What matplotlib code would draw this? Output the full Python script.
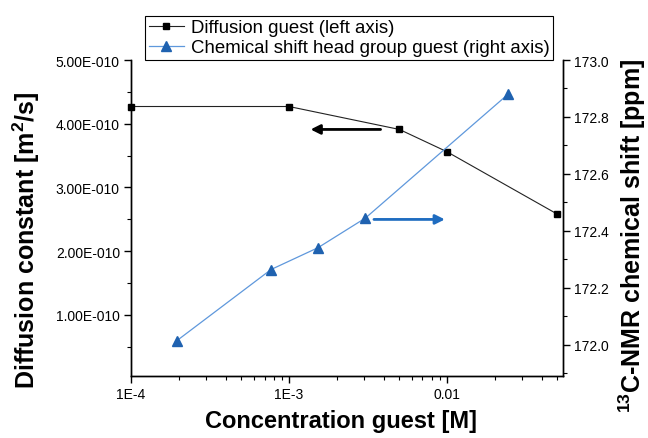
import matplotlib
matplotlib.use("Agg")
import matplotlib.pyplot as plt
from matplotlib.ticker import FixedLocator, FuncFormatter, LogLocator, NullFormatter, MultipleLocator

plt.rcParams['font.family'] = ['Liberation Sans', 'DejaVu Sans']
plt.rcParams['mathtext.fontset'] = 'custom'
plt.rcParams['mathtext.default'] = 'regular'

# Data
diff_conc = [1.0e-4, 1.0e-3, 5.0e-3, 1.0e-2, 5.0e-2]
diff_vals = [4.27e-10, 4.27e-10, 3.91e-10, 3.56e-10, 2.58e-10]

shift_conc = [1.95e-4, 7.7e-4, 1.53e-3, 3.05e-3, 2.45e-2]
shift_vals = [172.014, 172.264, 172.341, 172.445, 172.881]

x_ticks = [1e-4, 1e-3, 1e-2]
x_ticklabels = ["1E-4", "1E-3", "0.01"]
left_ticks = [1e-10, 2e-10, 3e-10, 4e-10, 5e-10]
right_ticks = [172.0, 172.2, 172.4, 172.6, 172.8, 173.0]

# Annotation arrows (tail -> head)
black_arrow = {"tail": (3.8e-3, 3.91e-10), "head": (1.37e-3, 3.91e-10)}
blue_arrow = {"tail": (3.45e-3, 172.44), "head": (9.7e-3, 172.44)}

fig = plt.figure(figsize=(6.48, 4.39), dpi=100)
ax = fig.add_axes([131/648, 1-377/439, (563.3-131)/648, (377-61)/439])
ax2 = ax.twinx()

blk = '#222222'
blue_line = '#5f98dc'
blue_mark = '#1f62b0'

l1, = ax.plot(diff_conc, diff_vals, '-', color=blk, lw=0.8, marker='s',
              markersize=5, markerfacecolor='black', markeredgecolor='black', zorder=3, clip_on=False)
l2, = ax2.plot(shift_conc, shift_vals, '-', color=blue_line, lw=0.9, marker='^',
               markersize=7, markerfacecolor=blue_mark, markeredgecolor=blue_mark, zorder=3, clip_on=False)

ax.set_xscale('log')
ax.set_xlim(1e-4, 0.0545)
ax.set_ylim(0.04e-10, 5e-10)
ax2.set_ylim(171.89, 173.0)

ax.xaxis.set_major_locator(FixedLocator(x_ticks))
ax.xaxis.set_major_formatter(FuncFormatter(lambda v, p: x_ticklabels[x_ticks.index(min(x_ticks, key=lambda t: abs(t - v)))]))
ax.xaxis.set_minor_locator(LogLocator(base=10, subs=range(2, 10)))
ax.xaxis.set_minor_formatter(NullFormatter())

def sci_fmt(v, p):
    m, e = f"{v:.2E}".split("E")
    sign = e[0]
    return f"{m}E{sign}{int(e[1:]):03d}"

ax.yaxis.set_major_locator(FixedLocator(left_ticks))
ax.yaxis.set_major_formatter(FuncFormatter(sci_fmt))
ax.yaxis.set_minor_locator(MultipleLocator(0.5e-10))
ax2.yaxis.set_major_locator(FixedLocator(right_ticks))
ax2.yaxis.set_major_formatter(FuncFormatter(lambda v, p: f"{v:.1f}"))
ax2.yaxis.set_minor_locator(MultipleLocator(0.1))

for a in (ax, ax2):
    a.spines['top'].set_visible(False)
    for s in a.spines.values():
        s.set_linewidth(1.0)
    a.tick_params(which='major', length=5, width=1.0, direction='out', labelsize=10, pad=3)
    a.tick_params(which='minor', length=3, width=0.8, direction='out')

ax.set_xlabel("Concentration guest [M]", fontsize=17, fontweight='bold')
ax.xaxis.set_label_coords(0.485, -0.104)
ax.set_ylabel("Diffusion constant [m$^2$/s]", fontsize=18, fontweight='bold')
ax.yaxis.set_label_coords(-0.205, 0.434)
ax2.set_ylabel("$^{13}$C-NMR chemical shift [ppm]", fontsize=18, fontweight='bold', rotation=90)
ax2.yaxis.set_label_coords(1.124, 0.446)

ax.annotate("", xy=black_arrow["head"], xytext=black_arrow["tail"],
            arrowprops=dict(arrowstyle='-|>', color='black', lw=2, mutation_scale=14, shrinkA=0, shrinkB=0))
ax2.annotate("", xy=blue_arrow["head"], xytext=blue_arrow["tail"],
             arrowprops=dict(arrowstyle='-|>', color='#1f6cc0', lw=2, mutation_scale=14, shrinkA=0, shrinkB=0))

leg = fig.legend([l1, l2], ["Diffusion guest (left axis)", "Chemical shift head group guest (right axis)"],
                 loc='lower right', bbox_to_anchor=(553/648, 1-61/439), bbox_transform=fig.transFigure,
                 fontsize=13.4, frameon=True, fancybox=False, edgecolor='black', framealpha=1,
                 handlelength=1.9, handletextpad=0.35, borderpad=0.2, labelspacing=0.15, borderaxespad=0)
leg.get_frame().set_linewidth(0.8)

fig.savefig("out.png", dpi=100)
